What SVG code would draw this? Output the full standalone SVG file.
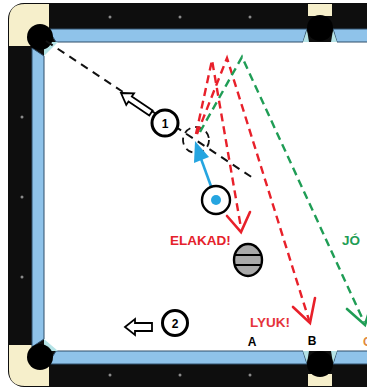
<svg xmlns="http://www.w3.org/2000/svg" width="367" height="390" viewBox="0 0 367 390">
  <style>
    .rail { fill: #0e0e0e; }
    .cream { fill: #f6efcb; }
    .cushion { fill: #8fc3ea; stroke: #2f4f6a; stroke-width: 1; }
    .pocket { fill: #000000; }
    .jaw { fill: #b5e3e6; }
    .diamond { fill: #8a8a8a; }
    .aim { fill: none; stroke: #111; stroke-width: 2; stroke-dasharray: 8 6; }
    .red { fill: none; stroke: #e8202a; stroke-width: 2.4; stroke-dasharray: 8 5; }
    .green { fill: none; stroke: #1f9d55; stroke-width: 2.4; stroke-dasharray: 8 5; }
    .redhead { fill: none; stroke: #e8202a; stroke-width: 2.6; stroke-linecap: round; stroke-linejoin: miter; }
    .greenhead { fill: none; stroke: #1f9d55; stroke-width: 2.6; stroke-linecap: round; }
    .label { font-family: "Liberation Sans", Arial, sans-serif; font-weight: bold; }
    .ball { fill: #fff; stroke: #000; stroke-width: 3; }
    .hollow { fill: #fff; stroke: #000; stroke-width: 1.8; stroke-linejoin: miter; }
  </style>

  <!-- table frame -->
  <g id="table">
    <rect class="rail" x="8" y="3" width="400" height="384" rx="16"/>
    <!-- corner and side pocket caps -->
    <path class="cream" d="M9,46 L9,20 Q9,4 25,4 L49,4 L49,29 L33,29 L33,46 Z"/>
    <path class="cream" d="M9,345 L9,370 Q9,386 25,386 L49,386 L49,364 L33,364 L33,345 Z"/>
    <rect class="cream" x="308" y="4" width="24" height="12"/>
    <rect class="cream" x="308" y="374" width="24" height="12"/>
    <!-- playing surface -->
    <rect x="44" y="42" width="330" height="309" fill="#ffffff"/>
    <!-- cushions -->
    <polygon class="cushion" points="48,29 307,29 303,42 56,42"/>
    <polygon class="cushion" points="333,29 380,29 380,42 337,42"/>
    <polygon class="cushion" points="48,364 307,364 303,351 56,351"/>
    <polygon class="cushion" points="333,364 380,364 380,351 337,351"/>
    <polygon class="cushion" points="32,48 44,56 44,339 32,347"/>
    <!-- jaws -->
    <polygon class="jaw" points="44,48 50,42 58,42 44,56"/>
    <polygon class="jaw" points="44,345 50,351 58,351 44,339"/>
    <polygon class="jaw" points="303,42 307,30 309,42"/>
    <polygon class="jaw" points="337,42 333,30 331,42"/>
    <polygon class="jaw" points="303,351 307,363 309,351"/>
    <polygon class="jaw" points="337,351 333,363 331,351"/>
    <!-- pockets -->
    <circle class="pocket" cx="40" cy="37" r="13"/>
    <circle class="pocket" cx="40" cy="357" r="13"/>
    <circle class="pocket" cx="320" cy="28" r="13"/>
    <circle class="pocket" cx="320" cy="364" r="13"/>
    <!-- diamonds -->
    <circle class="diamond" cx="110" cy="17" r="1.5"/>
    <circle class="diamond" cx="180" cy="17" r="1.5"/>
    <circle class="diamond" cx="250" cy="17" r="1.5"/>
    <circle class="diamond" cx="110" cy="375" r="1.5"/>
    <circle class="diamond" cx="180" cy="375" r="1.5"/>
    <circle class="diamond" cx="250" cy="375" r="1.5"/>
    <circle class="diamond" cx="22" cy="117" r="1.5"/>
    <circle class="diamond" cx="22" cy="197" r="1.5"/>
    <circle class="diamond" cx="22" cy="277" r="1.5"/>
  </g>

  <!-- shot paths -->
  <g id="connectors">
    <line class="aim" x1="46" y1="41" x2="256" y2="180"/>
    <circle cx="196" cy="140" r="13" fill="none" stroke="#111" stroke-width="1.8" stroke-dasharray="7 5"/>
    <!-- rebound paths off the top cushion -->
    <polyline class="red" points="196,134 212,60 241,228"/>
    <polyline class="red" points="197,134 227,58 309,320"/>
    <polyline class="green" points="200,132 242,57 364,322"/>
    <!-- arrowheads -->
    <polyline class="redhead" points="227,216 241,232 250,212"/>
    <polyline class="redhead" points="293,307 310,323 315,298"/>
    <polyline class="greenhead" points="347,309 365,325 372,302"/>
    <!-- cue direction -->
    <line x1="216" y1="200" x2="200" y2="156" stroke="#26a5e0" stroke-width="2.6"/>
    <polygon points="195,141 209,157 194,163" fill="#26a5e0"/>
  </g>

  <g id="ball1">
    <g transform="translate(121,93) rotate(33.7)">
      <polygon class="hollow" points="0,0 11,-7 11,-3 36,-3 36,3 11,3 11,7"/>
    </g>
    <circle class="ball" cx="165" cy="123" r="13"/>
    <text class="label" x="165" y="127.5" font-size="12" text-anchor="middle" fill="#000">1</text>
  </g>

  <g id="cueball">
    <circle cx="216" cy="200" r="14" fill="#fff" stroke="#000" stroke-width="2.4"/>
    <circle cx="216" cy="200" r="5" fill="#26a5e0"/>
  </g>

  <g id="ball2">
    <polygon class="hollow" points="125,327 135,319 135,323 152,323 152,331 135,331 135,335"/>
    <circle class="ball" cx="175" cy="323" r="12.5"/>
    <text class="label" x="175" y="327.5" font-size="12" text-anchor="middle" fill="#000">2</text>
  </g>

  <g id="stripeball">
    <ellipse cx="248" cy="260" rx="14" ry="16" fill="#a9a9a9" stroke="#000" stroke-width="2.4"/>
    <line x1="235" y1="255" x2="261" y2="255" stroke="#000" stroke-width="2"/>
    <line x1="235" y1="265" x2="261" y2="265" stroke="#000" stroke-width="2"/>
  </g>

  <g id="labels">
    <text class="label" x="170" y="245" font-size="13.5" fill="#e5212b">ELAKAD!</text>
    <text class="label" x="342" y="245" font-size="13.5" fill="#1f9d55">JÓ</text>
    <text class="label" x="250" y="327" font-size="13.5" fill="#e5333b">LYUK!</text>
    <text class="label" x="252" y="346" font-size="12" text-anchor="middle" fill="#000">A</text>
    <text class="label" x="312" y="345" font-size="12" text-anchor="middle" fill="#000">B</text>
    <text class="label" x="363" y="346" font-size="12" fill="#e0893a">C</text>
  </g>
</svg>
